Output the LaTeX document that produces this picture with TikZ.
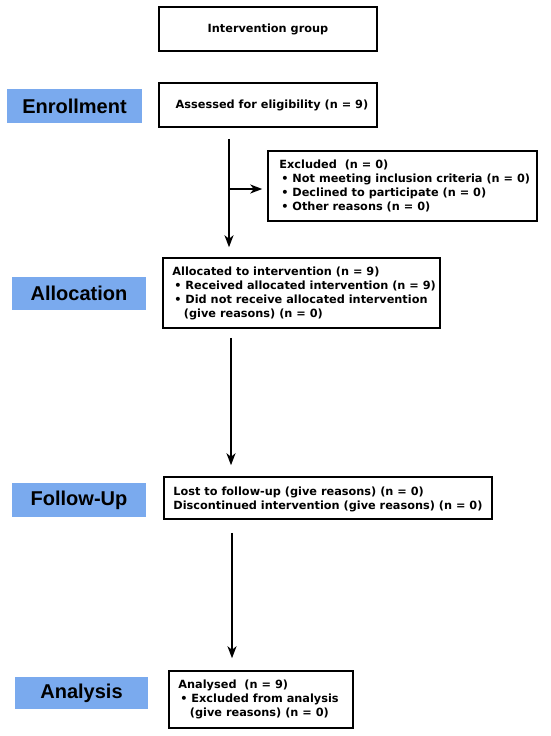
\documentclass[tikz,border=0pt]{standalone}
\usepackage{fontspec}
\setmainfont{Liberation Sans}
\newfontfamily\boxfont{DejaVu Sans}
\newfontfamily\labfont{Liberation Sans}
\usetikzlibrary{arrows.meta}
\definecolor{labblue}{RGB}{122,170,238}
\newcommand{\bul}{\makebox[13pt][l]{\hspace{2pt}•}}
\newcommand{\hang}{\hspace{11.5pt}}
\begin{document}
\begin{tikzpicture}[x=1pt,y=-1pt,
  box/.style={draw=black, line width=1.5pt, fill=white, inner sep=0pt},
  txt/.style={font={\boxfont\bfseries\fontsize{11.3}{14}\selectfont}, align=left, inner sep=0pt, anchor=west},
  ctxt/.style={font={\boxfont\bfseries\fontsize{11.3}{14}\selectfont}},
  lab/.style={fill=labblue, inner sep=0pt, font={\labfont\bfseries\fontsize{20}{24}\selectfont}},
  arr/.style={line width=1.8pt, -{Stealth[length=12pt,width=9pt,inset=3.5pt]}}]
\useasboundingbox (0,0) rectangle (550,736);
\fill[white] (0,0) rectangle (550,736);

% labels
\node[lab, minimum width=135pt, minimum height=34pt] (lenr) at (74.5,106) {Enrollment};
\node[lab, minimum width=134pt, minimum height=33pt] (lall) at (79,293.5) {Allocation};
\node[lab, minimum width=134pt, minimum height=34pt] (lfol) at (79,500) {Follow-Up};
\node[lab, minimum width=133pt, minimum height=32pt] (lana) at (81.5,693) {Analysis};

% boxes
\node[box, ctxt, minimum width=218pt, minimum height=44pt] (top) at (268,29) {Intervention group};
\node[box, ctxt, minimum width=218pt, minimum height=44pt] (assess) at (268,105) {\hspace{8pt}Assessed for eligibility (n = 9)};

\node[box, minimum width=269pt, minimum height=70pt] (excl) at (402.5,186) {};
\node[txt] (excltxt) at ([xshift=12pt]excl.west) {Excluded\ \ (n = 0)\\
\bul Not meeting inclusion criteria (n = 0)\\
\bul Declined to participate (n = 0)\\
\bul Other reasons (n = 0)};

\node[box, minimum width=277pt, minimum height=70pt] (alloc) at (301.5,293) {};
\node[txt] (alloctxt) at ([xshift=10pt]alloc.west) {Allocated to intervention (n = 9)\\
\bul Received allocated intervention (n = 9)\\
\bul Did not receive allocated intervention\\
\hang(give reasons) (n = 0)};

\node[box, minimum width=328pt, minimum height=42pt] (follow) at (328,498) {};
\node[txt] (followtxt) at ([xshift=10pt,yshift=-1pt]follow.west) {Lost to follow-up (give reasons) (n = 0)\\
Discontinued intervention (give reasons) (n = 0)};

\node[box, minimum width=184pt, minimum height=57pt] (anal) at (261,699.5) {};
\node[txt] (analtxt) at ([xshift=10pt]anal.west) {Analysed\ \ (n = 9)\\
\bul Excluded from analysis\\
\hang(give reasons) (n = 0)};

% connectors
\coordinate (c1) at ([xshift=-39pt]assess.south);
\coordinate (c1e) at (c1 |- alloc.north);
\draw[arr, shorten <=11pt, shorten >=10pt] (c1) -- (c1e);
\coordinate (br) at (c1 |- 0,189);
\draw[arr, shorten >=5pt] (br) -- (excl.west |- br);

\coordinate (c2) at ([xshift=-70.5pt]alloc.south);
\draw[arr, shorten <=9pt, shorten >=11pt] (c2) -- (c2 |- follow.north);

\coordinate (c3) at ([xshift=-96pt]follow.south);
\draw[arr, shorten <=13pt, shorten >=12pt] (c3) -- (c3 |- anal.north);
\end{tikzpicture}
\end{document}
